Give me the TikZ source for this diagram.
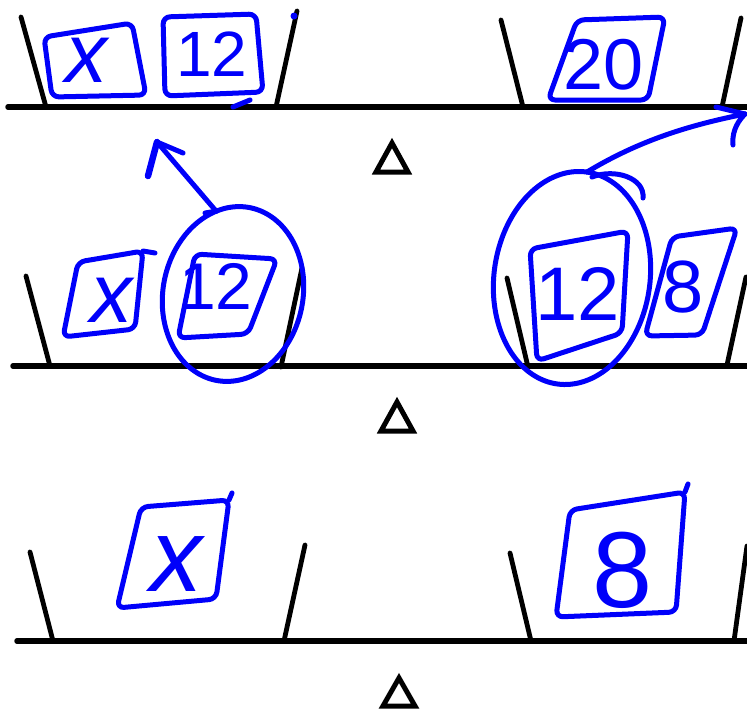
\documentclass[tikz,border=0pt]{standalone}
\usepackage{fontspec}
\setmainfont{Liberation Sans}
\newcommand\hwsize[1]{\fontsize{#1}{#1}\selectfont}
\definecolor{ink}{RGB}{0,0,250}
\tikzset{
  beam/.style={line width=5.5pt, line cap=round, black},
  wall/.style={line width=4.8pt, line cap=round, black},
  fulcrum/.style={line width=5pt, line join=miter, black},
  inkbox/.style={draw=ink, line width=5pt, rounded corners=7pt, line join=round},
  inkline/.style={draw=ink, line width=5pt, line cap=round, line join=round},
  inktext/.style={text=ink, inner sep=0pt, anchor=center}
}
\begin{document}
\begin{tikzpicture}[x=1pt,y=-1pt]
\fill[white] (0,0) rectangle (747,713);
\useasboundingbox (0,0) rectangle (747,713);

% ---------- row 1 ----------
\draw[beam] (8,107) -- (747,107);
\draw[wall] (21,17) -- (46,107);
\draw[wall] (297,11) -- (276,107);
\draw[wall] (501,20) -- (523,107);
\draw[wall] (741,18) -- (722,107);
\draw[fulcrum] (376,172) -- (392,143) -- (408,172) -- cycle;

\draw[inkbox] (44,37) -- (132,23) -- (146,95) -- (52,97) -- cycle;
\node[inktext] (x1) at (86,60) {\hwsize{84}\itshape x};
\draw[inkbox] (163,17) -- (256,14) -- (263,92) -- (165,96) -- cycle;
\node[inktext] (a1) at (212,54) {\hwsize{64}12};
\draw[inkline] (233,107) -- (250,100);
\fill[ink] (294,16) circle (3.5pt);
\draw[inkbox] (577,20) -- (665,17) -- (648,100) -- (548,100) -- cycle;
\node[inktext] (b1) at (604,65) {\hwsize{72}20};

% ---------- row 2 ----------
\draw[beam] (13,366) -- (747,366);
\draw[wall] (26,276) -- (50,366);
\draw[wall] (302,268) -- (281,367);
\draw[wall] (507,278) -- (528,367);
\draw[wall] (746,277) -- (727,365);
\draw[fulcrum] (381,431) -- (397,402) -- (413,431) -- cycle;

\draw[inkbox] (78,262) -- (143,251) -- (135,329) -- (63,337) -- cycle;
\draw[inkline] (143,251) -- (155,253);
\node[inktext] (x2) at (111,300) {\hwsize{84}\itshape x};
\draw[inkbox] (195,254) -- (277,259) -- (248,334) -- (178,338) -- cycle;
\node[inktext] (a2) at (216,286) {\hwsize{66}12};
\draw[inkline] plot[domain=0:360, samples=90, smooth cycle, variable=\t]
  ({233 + 70*cos(\t)*cos(11) - 88*sin(\t)*sin(11)}, {294 + 70*cos(\t)*sin(11) + 88*sin(\t)*cos(11)});
% arrow to the left pan above
\coordinate (la0) at (216,211);
\coordinate (la1) at (157,142);
\draw[inkline] (la0) -- (la1);
\draw[inkline] (la1) -- (183,153);
\draw[inkline, line width=6.5pt] (la1) -- (148,176);
\draw[inkline] (205,213) -- (217,211);

\draw[inkbox] (530,249) -- (628,231) -- (622,333) -- (537,361) -- cycle;
\node[inktext] (a3) at (578,294) {\hwsize{76}12};
\draw[inkbox] (672,237) -- (737,228) -- (702,335) -- (645,336) -- cycle;
\node[inktext] (c2) at (683,287) {\hwsize{74}8};
\draw[inkline] plot[domain=0:360, samples=90, smooth cycle, variable=\t]
  ({572 + 78*cos(\t)*cos(8) - 107*sin(\t)*sin(8)}, {278 + 78*cos(\t)*sin(8) + 107*sin(\t)*cos(8)});
\draw[inkline] (592,177) .. controls (615,168) and (645,178) .. (643,198);
% arrow to the right pan above
\coordinate (ra0) at (587,172);
\coordinate (ra1) at (745,114);
\draw[inkline] (ra0) .. controls (640,140) and (690,125) .. (ra1);
\draw[inkline] (716,107) -- (ra1);
\draw[inkline] (ra1) .. controls (735,124) and (732,135) .. (733,145);

% ---------- row 3 ----------
\draw[beam] (17,641) -- (747,641);
\draw[wall] (30,552) -- (53,641);
\draw[wall] (305,545) -- (284,641);
\draw[wall] (510,553) -- (531,641);
\draw[wall] (747,546) -- (734,641);
\draw[fulcrum] (383,706) -- (399,678) -- (415,706) -- cycle;

\draw[inkbox] (141,507) -- (229,500) -- (216,599) -- (117,608) -- cycle;
\draw[inkline] (229,500) -- (232,493);
\node[inktext] (x3) at (176,564) {\hwsize{104}\itshape x};
\draw[inkbox] (570,510) -- (685,492) -- (676,612) -- (556,617) -- cycle;
\draw[inkline] (685,492) -- (688,484);
\node[inktext] (c3) at (623,570) {\hwsize{108}8};
\end{tikzpicture}
\end{document}
